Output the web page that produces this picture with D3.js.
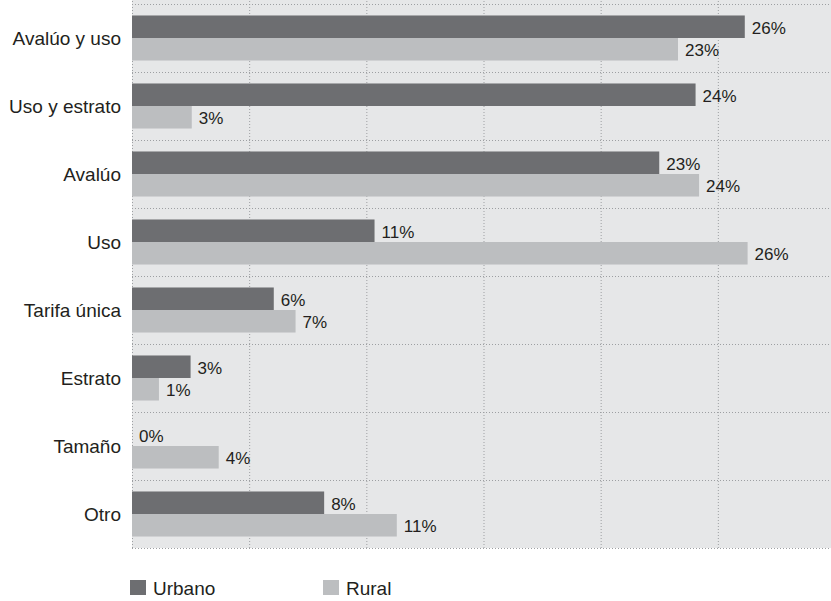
<!DOCTYPE html>
<html>
<head>
<meta charset="utf-8">
<script src="https://cdn.jsdelivr.net/npm/d3@7"></script>
<style>
  html, body { margin: 0; padding: 0; background: #fff; }
  svg { display: block; }
  text { font-family: "Liberation Sans", Arial, sans-serif; fill: #231f20; }
</style>
</head>
<body>
<svg id="chart" width="831" height="601"></svg>
<script>
const categories = ["Avalúo y uso", "Uso y estrato", "Avalúo", "Uso", "Tarifa única", "Estrato", "Tamaño", "Otro"];
const seriesNames = ["Urbano", "Rural"];
const urbano = [26.15, 24.05, 22.5, 10.35, 6.05, 2.5, 0, 8.2];
const rural = [23.3, 2.55, 24.2, 26.27, 6.98, 1.15, 3.7, 11.3];
const urbanoLabels = ["26%", "24%", "23%", "11%", "6%", "3%", "0%", "8%"];
const ruralLabels = ["23%", "3%", "24%", "26%", "7%", "1%", "4%", "11%"];
const xTicks = [0, 5, 10, 15, 20, 25];
const colors = ["#6d6e71", "#bcbec0"];

const svg = d3.select("#chart");
const W = 831;
const plotLeft = 132, plotTop = 4, plotBottom = 548;

const x = d3.scaleLinear().domain([0, 30]).range([plotLeft, plotLeft + 703]);
const y = d3.scaleBand().domain(categories).range([plotTop, plotBottom]).padding(0);
const ySub = d3.scaleBand().domain(seriesNames).range([0, y.bandwidth()]).paddingInner(0).paddingOuter(0.51);

// background
svg.append("rect").attr("x", plotLeft).attr("y", 0).attr("width", W - plotLeft).attr("height", plotBottom)
  .attr("fill", "#e6e7e8");

// vertical gridlines
const gx = svg.append("g").attr("transform", `translate(0,${plotBottom})`)
  .call(d3.axisBottom(x).tickValues(xTicks).tickSize(-(plotBottom)).tickFormat(""));
gx.select(".domain").remove();
gx.selectAll(".tick line").attr("stroke", "#9d9fa2").attr("stroke-width", 1).attr("stroke-dasharray", "1,2");

// horizontal gridlines
const hLines = categories.map(c => y(c)).concat([plotBottom]);
svg.append("g").selectAll("line").data(hLines).join("line")
  .attr("x1", plotLeft).attr("x2", W)
  .attr("y1", d => Math.round(d) + 0.5).attr("y2", d => Math.round(d) + 0.5)
  .attr("stroke", "#9d9fa2").attr("stroke-width", 1).attr("stroke-dasharray", "1,2");

const data = categories.map((c, i) => ({
  cat: c,
  vals: [
    { s: "Urbano", v: urbano[i], label: urbanoLabels[i], color: colors[0] },
    { s: "Rural", v: rural[i], label: ruralLabels[i], color: colors[1] }
  ]
}));

const groups = svg.append("g").selectAll("g").data(data).join("g")
  .attr("transform", d => `translate(0,${y(d.cat)})`);

groups.selectAll("rect").data(d => d.vals).join("rect")
  .attr("x", x(0))
  .attr("y", d => ySub(d.s))
  .attr("width", d => x(d.v) - x(0))
  .attr("height", ySub.bandwidth())
  .attr("fill", d => d.color);

groups.selectAll("text.val").data(d => d.vals).join("text")
  .attr("class", "val")
  .attr("x", d => x(d.v) + 7)
  .attr("y", d => ySub(d.s) + ySub.bandwidth() / 2 + 1)
  .attr("dy", "0.35em")
  .attr("font-size", "17px")
  .text(d => d.label);

// category labels
svg.append("g").selectAll("text").data(categories).join("text")
  .attr("x", 121)
  .attr("y", d => y(d) + y.bandwidth() / 2)
  .attr("dy", "0.35em")
  .attr("text-anchor", "end")
  .attr("font-size", "19px")
  .text(d => d);

// legend
const legendX = [130, 323];
const legend = svg.append("g").selectAll("g").data(seriesNames).join("g")
  .attr("transform", (d, i) => `translate(${legendX[i]},580)`);
legend.append("rect").attr("width", 16).attr("height", 15).attr("fill", (d, i) => colors[i]);
legend.append("text").attr("x", 23).attr("y", 14.5).attr("font-size", "19px").text(d => d);
</script>
</body>
</html>
